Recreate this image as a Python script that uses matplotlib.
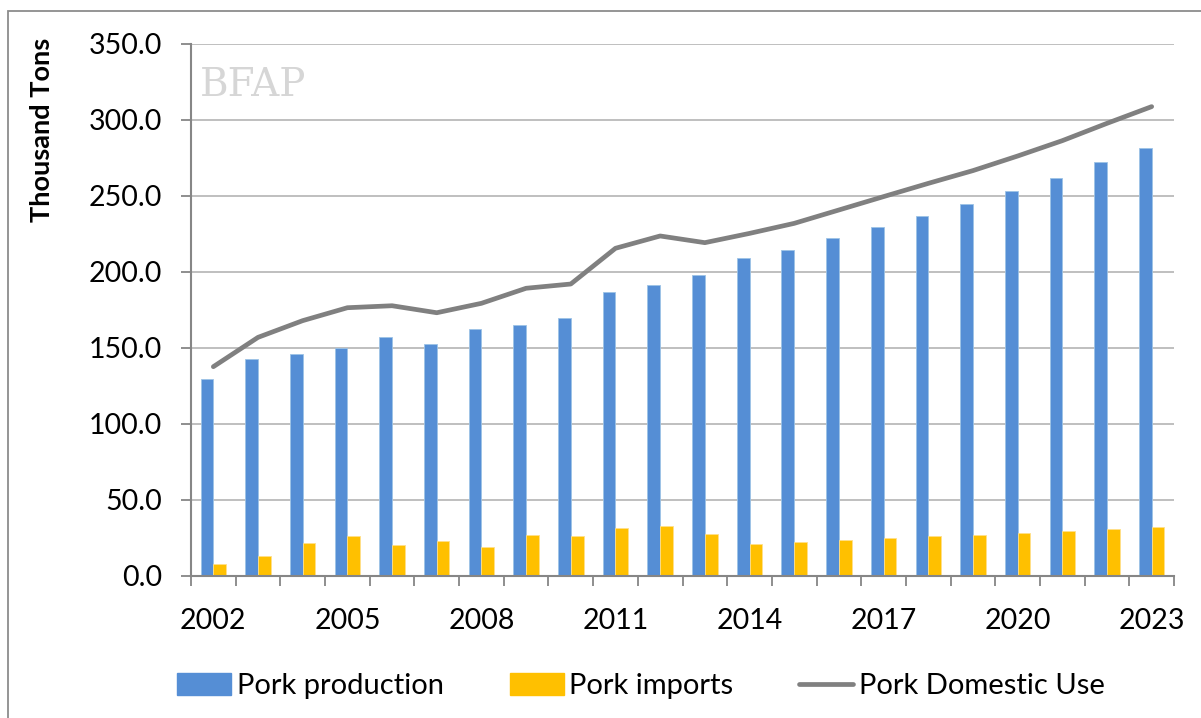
import matplotlib
matplotlib.use("Agg")
import matplotlib.pyplot as plt
from matplotlib.patches import Rectangle
from matplotlib.lines import Line2D
import numpy as np

years = list(range(2002, 2024))
production = [129.4, 143.0, 146.0, 149.8, 157.2, 152.6, 162.7, 165.1, 169.7, 186.6, 191.2,
              197.8, 209.2, 214.7, 222.2, 229.4, 237.0, 244.7, 253.3, 261.8, 272.1, 281.6]
imports = [8.1, 12.9, 21.7, 26.3, 20.4, 23.2, 18.9, 27.0, 26.1, 31.8, 33.1,
           27.6, 21.1, 22.4, 23.7, 25.2, 26.3, 27.2, 28.3, 29.6, 30.9, 32.0]
domestic = [137.7, 157.0, 168.0, 176.5, 177.8, 173.2, 179.4, 189.3, 192.1, 215.6, 223.7,
            219.3, 225.4, 232.0, 240.8, 249.6, 258.3, 266.7, 276.3, 286.4, 297.8, 308.8]
label_years = [2002, 2005, 2008, 2011, 2014, 2017, 2020, 2023]

plt.rcParams['font.family'] = ['Lato', 'DejaVu Sans']

W, H = 1201, 718
fig = plt.figure(figsize=(W / 100, H / 100), dpi=100)
ax = fig.add_axes([191 / W, 1 - 576 / H, (1174 - 191) / W, (576 - 44) / H])

# figure frame
fig.patches.append(Rectangle((8 / W, -0.05), 1.2, 0.05 + (1 - 11 / H), transform=fig.transFigure,
                             fill=False, edgecolor='#8C8C8C', linewidth=1.3, zorder=0))

x = np.arange(len(years))
w = 0.285
blue = '#558ED5'
yellow = '#FFC000'
ax.bar(x - w / 2, production, width=w, color=blue, edgecolor='#9DC3E6', linewidth=0.6,
       zorder=3, label='Pork production')
ax.bar(x + w / 2, imports, width=w, color=yellow, edgecolor='#FFE08A', linewidth=0.6,
       zorder=3, label='Pork imports')
ax.plot(x, domestic, color='#808080', linewidth=3.4, solid_capstyle='round', zorder=4,
        label='Pork Domestic Use')

ax.set_xlim(-0.5, len(years) - 0.5)
ax.set_ylim(0, 350)
ax.set_yticks(np.arange(0, 351, 50))
ax.set_yticklabels([f"{v:.1f}" for v in np.arange(0, 351, 50)])
ax.yaxis.grid(True, color='#BFBFBF', linewidth=1.4, zorder=0)
ax.set_axisbelow(True)

# x ticks at boundaries, labels at centres
ax.set_xticks(np.arange(-0.5, len(years), 1.0))
ax.set_xticklabels([])
lab_pos = [years.index(y) for y in label_years]
ax.set_xticks(lab_pos, minor=True)
ax.set_xticklabels([str(y) for y in label_years], minor=True)
ax.tick_params(axis='x', which='major', length=7, width=1.3, color='#868686', direction='out')
ax.tick_params(axis='x', which='minor', length=0, pad=23, labelsize=20.5)
ax.tick_params(axis='y', length=7, width=1.3, color='#868686', direction='out', pad=14, labelsize=20.5)

for s in ['top', 'right']:
    ax.spines[s].set_visible(False)
for s in ['left', 'bottom']:
    ax.spines[s].set_color('#868686')
    ax.spines[s].set_linewidth(1.5)
    ax.spines[s].set_zorder(5)

fig.text(42 / W, 1 - 130 / H, 'Thousand Tons', rotation=90, ha='center', va='center',
         fontsize=19.5, fontweight='bold')

# faint watermark
fig.text(253 / W, 1 - 86 / H, 'BFAP', fontsize=28, family='DejaVu Serif', color='#D6D6D6',
         ha='center', va='center', zorder=1)

handles = [Rectangle((0, 0), 1, 1, color=blue), Rectangle((0, 0), 1, 1, color=yellow),
           Line2D([0], [0], color='#808080', linewidth=3.4, solid_capstyle='round')]
fig.legend(handles, ['Pork production', 'Pork imports', 'Pork Domestic Use'],
           loc='center', bbox_to_anchor=(641 / W, 1 - 686 / H), ncol=3, frameon=False,
           fontsize=21, handlelength=1.85, handleheight=0.75, handletextpad=0.2,
           columnspacing=2.25)

fig.savefig('out.png', dpi=100)
